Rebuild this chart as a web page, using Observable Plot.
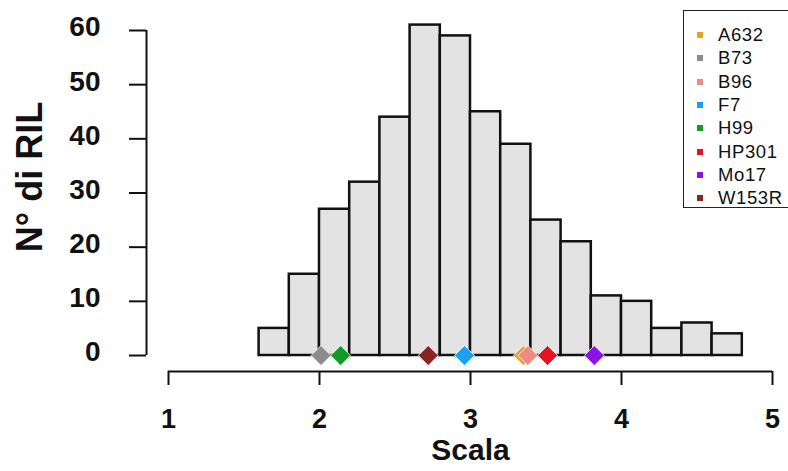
<!DOCTYPE html>
<html><head><meta charset="utf-8">
<script src="https://cdn.jsdelivr.net/npm/d3@7"></script>
<script src="https://cdn.jsdelivr.net/npm/@observablehq/plot@0.6"></script>
<style>
body{margin:0;overflow:hidden;background:#fff;font-family:"Liberation Sans",Arial,sans-serif;}
#wrap{position:relative;width:788px;height:471px;overflow:hidden;}
#legend{position:absolute;left:683px;top:10px;width:130px;height:198px;border:1.5px solid #222;box-sizing:border-box;background:#fff;}
.item{position:absolute;left:0;height:22px;display:flex;align-items:center;font-size:18.5px;color:#111;white-space:nowrap;letter-spacing:0.6px;}
.sw{display:inline-block;width:6px;height:6px;margin-left:13px;margin-right:15px;}
</style>
</head><body>
<div id="wrap"><div id="legend"></div></div>
<script>
// Histogram bins (left edge) and counts
const binStarts = [1.6,1.8,2.0,2.2,2.4,2.6,2.8,3.0,3.2,3.4,3.6,3.8,4.0,4.2,4.4,4.6];
const counts    = [5,15,27,32,44,61,59,45,39,25,21,11,10,5,6,4];
const binWidth = 0.2;
// Parental lines
const lines      = ["A632","B73","B96","F7","H99","HP301","Mo17","W153R"];
const lineScores = [3.35,2.01,3.38,2.96,2.14,3.51,3.82,2.72];
const lineColors = ["#E8A21E","#8C8C8C","#EE8A7E","#1EA0EA","#139A27","#E81220","#8A14E2","#8B2525"];
// Axes
const xTicks = [1,2,3,4,5];
const yTicks = [0,10,20,30,40,50,60];
const xTitle = "Scala";
const yTitle = "N° di RIL";

const bins = binStarts.map((s,i)=>({x1:s, x2:s+binWidth, y:counts[i]}));
const parents = lines.map((n,i)=>({name:n, x:lineScores[i], color:lineColors[i]}));

const chart = Plot.plot({
  width: 788, height: 471,
  marginLeft: 168, marginRight: 16, marginTop: 30, marginBottom: 116,
  style: {fontFamily: '"Liberation Sans", Arial, sans-serif', color: "#111", background: "transparent"},
  x: {domain: [1,5]},
  y: {domain: [0,60]},
  marks: [
    Plot.rectY(bins, {x1:"x1", x2:"x2", y:"y", fill:"#e3e3e3", stroke:"#111", strokeWidth:2.5, inset:0}),
    Plot.dot(parents, {x:"x", y:0, symbol:"diamond2", r:9, fill:"color", stroke:"white", strokeWidth:0.8}),
    Plot.ruleY([0], {x1: xTicks[0], x2: xTicks[xTicks.length-1], dy: 16, stroke:"#111", strokeWidth:2}),
    Plot.axisX(xTicks, {anchor:"bottom", dy:16, tickSize:14, tickPadding:23, strokeWidth:2, fontSize:27, fontWeight:"bold", tickFormat:"d", label:null}),
    Plot.ruleX([xTicks[0]], {y1: yTicks[0], y2: yTicks[yTicks.length-1], dx:-22, stroke:"#111", strokeWidth:2}),
    Plot.axisY(yTicks, {anchor:"left", dx:-22, tickSize:17, tickFormat:()=>"", strokeWidth:2, label:null}),
    Plot.axisY(yTicks, {anchor:"left", dx:-22, dy:-3, tickSize:0, tickPadding:46, fontSize:28, fontWeight:"bold", tickFormat:"d", label:null}),
    Plot.text([xTitle], {frameAnchor:"bottom", lineAnchor:"middle", textAnchor:"middle", dy:95, fontSize:30, fontWeight:"bold"}),
    Plot.text([yTitle], {frameAnchor:"left", lineAnchor:"middle", textAnchor:"middle", rotate:-90, dx:-138, dy:-16, fontSize:36, fontWeight:"bold"})
  ]
});
document.getElementById("wrap").prepend(chart);

const lg = document.getElementById("legend");
parents.forEach((p,i)=>{
  const d = document.createElement("div");
  d.className = "item";
  d.style.top = (13 + i*23.3) + "px";
  d.innerHTML = `<span class="sw" style="background:${p.color}"></span>${p.name}`;
  lg.appendChild(d);
});
</script>
</body></html>
